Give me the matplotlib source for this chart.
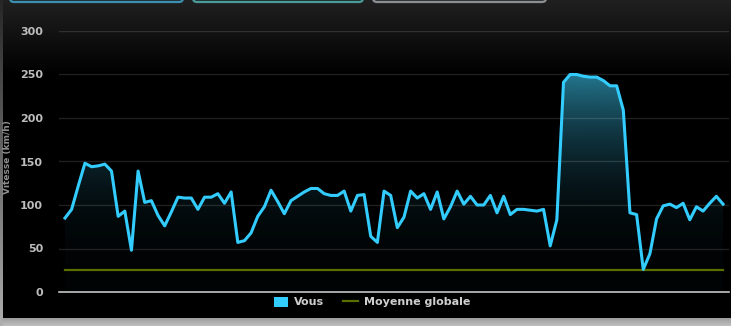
import matplotlib
matplotlib.use("Agg")
import matplotlib.pyplot as plt
import numpy as np
from matplotlib.patches import FancyBboxPatch, Patch
from matplotlib.lines import Line2D

# ------------------------- data ---------------------------------
vous = [85, 95, 122, 148, 144, 145, 147, 139, 87, 93,
        48, 139, 103, 105, 88, 76, 92, 109, 108, 108,
        95, 109, 109, 113, 102, 115, 57, 59, 68, 87,
        98, 117, 104, 90, 105, 110, 115, 119, 119, 113,
        111, 111, 116, 93, 111, 112, 64, 57, 116, 111,
        74, 86, 116, 108, 113, 95, 115, 84, 98, 116,
        101, 110, 100, 100, 111, 91, 110, 89, 95, 95,
        94, 93, 95, 53, 83, 241, 250, 250, 248, 247,
        247, 243, 237, 237, 209, 91, 89, 26, 44, 84,
        99, 101, 97, 102, 83, 98, 93, 102, 110, 101]
moyenne = [25] * len(vous)
yticks = [0, 50, 100, 150, 200, 250, 300]
labels = ["Vous", "Moyenne globale"]

cyan = "#33ccff"
olive = "#5a6e00"
txt = "#bdbdbd"

W, H = 731, 326
fig = plt.figure(figsize=(W / 100, H / 100), dpi=100)

# ---------------- background (pixel coords) ---------------------
bg = fig.add_axes([0, 0, 1, 1])
bg.set_xlim(0, W)
bg.set_ylim(H, 0)
bg.axis("off")
rows = np.arange(H)
v = np.clip(1 - rows / 75.0, 0, 1) * 32 / 255.0
img = np.zeros((H, W, 3))
img[:, :, :] = v[:, None, None]
# grey band at the bottom
band = rows >= 318
img[band, :, :] = np.linspace(0.62, 0.74, band.sum())[:, None, None]
# grey strip at the left
strip = np.linspace(0.15, 0.68, H)
img[:, 0:3, :] = strip[:, None, None]
bg.imshow(img, extent=(0, W, H, 0), aspect="auto", interpolation="bilinear")

# top tabs (only their lower edges show)
tabs = [(10, 183, "#3d8fb0", "#1c2a30"),
        (193, 363, "#4a9a9a", "#1c2a2a"),
        (373, 546, "#8a8f94", "#2a2a2c")]
for x0, x1, ec, fc in tabs:
    bg.add_patch(FancyBboxPatch((x0, -20), x1 - x0, 22,
                                boxstyle="round,pad=0,rounding_size=4",
                                ec=ec, fc=fc, lw=1.6))

# axis title squeezed against the left edge
fig.text(3 / W, 1 - 157 / H, "Vitesse (km/h)", rotation=90, ha="left",
         va="center", color="#8e8e8e", fontsize=6.5, fontweight="bold")

# ------------------------- chart --------------------------------
ax = fig.add_axes([59 / W, 1 - 292 / H, 670 / W, 261 / H])
ax.set_facecolor("none")
x = np.arange(len(vous))
ax.set_xlim(-0.9, 99.9)
ax.set_ylim(0, 300)

# gradient fill under the series
gy = np.linspace(0, 300, 400)
alpha = np.clip(0.02 + 0.7 * (gy / 250.0) ** 2.6, 0, 0.8)
grad = np.zeros((len(gy), 2, 4))
grad[:, :, 0] = 50 / 255
grad[:, :, 1] = 165 / 255
grad[:, :, 2] = 200 / 255
grad[:, :, 3] = alpha[:, None]
im = ax.imshow(grad, extent=(-0.9, 99.9, 0, 300), origin="lower",
               aspect="auto", zorder=1)
poly = ax.fill_between(x, vous, 0, color="none", lw=0)
im.set_clip_path(poly.get_paths()[0], transform=ax.transData)

ax.set_yticks(yticks)
ax.grid(axis="y", color="white", alpha=0.13, lw=1, zorder=2)
ax.set_axisbelow(False)
ax.set_xticks([])
ax.tick_params(axis="y", length=0, pad=11.5, labelcolor=txt, labelsize=8)
for t in ax.get_yticklabels():
    t.set_fontweight("bold")
for s in ["top", "right", "left"]:
    ax.spines[s].set_visible(False)
ax.spines["bottom"].set_color("#c4c4c4")
ax.spines["bottom"].set_linewidth(1.2)
ax.spines["bottom"].set_zorder(4)

ax.plot(x, moyenne, color=olive, lw=1.6, zorder=3)
ax.plot(x, vous, color=cyan, lw=2.2, zorder=5, solid_joinstyle="round")

handles = [Patch(facecolor=cyan, edgecolor="none"),
           Line2D([0], [0], color=olive, lw=1.6)]
leg = fig.legend(handles, labels, loc="center", ncol=2, frameon=False,
                 bbox_to_anchor=(372 / W, 1 - 302 / H),
                 prop={"size": 8, "weight": "bold"}, handlelength=1.3,
                 handleheight=1.0, handletextpad=0.55, columnspacing=1.7,
                 borderpad=0)
for t in leg.get_texts():
    t.set_color("#cfcfcf")

fig.savefig("out.png", dpi=100)
